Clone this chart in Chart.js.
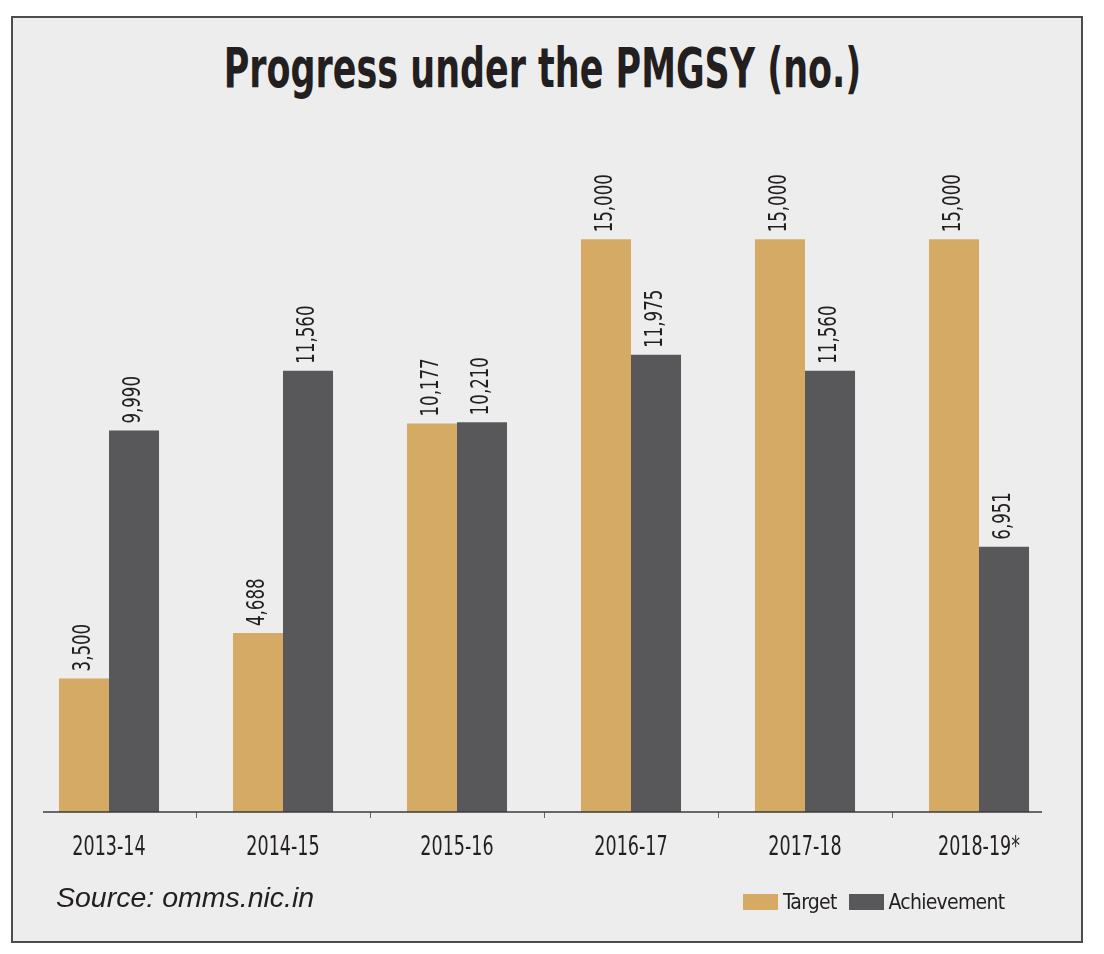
<!DOCTYPE html>
<html lang="en">
<head>
    <meta charset="UTF-8">
    <title>Progress under the PMGSY</title>
    <script src="https://cdn.jsdelivr.net/npm/chart.js"></script>
    <style>
        body {
            margin: 0;
            padding: 0;
            background: #ffffff;
        }
        .page {
            position: relative;
            width: 1104px;
            height: 954px;
            overflow: hidden;
        }
        .frame {
            position: absolute;
            left: 11px;
            top: 16px;
            width: 1068px;
            height: 923px;
            border: 2px solid #4d4d4d;
            background: #ededed;
        }
        #pmgsyChart {
            position: absolute;
            left: 0;
            top: 0;
        }
        .chart-title {
            position: absolute;
            left: 7px;
            width: 1071px;
            top: 41px;
            margin: 0;
            text-align: center;
            font-family: "DejaVu Sans Condensed", "Liberation Sans", sans-serif;
            font-weight: bold;
            font-size: 55px;
            line-height: 55px;
            color: #231f20;
            transform: scaleX(0.706);
            transform-origin: center;
        }
        .source {
            position: absolute;
            left: 56px;
            top: 883px;
            font-family: "Liberation Sans", Arial, sans-serif;
            font-style: italic;
            font-size: 28.5px;
            line-height: 28px;
            color: #231f20;
        }
        .legend-container {
            position: absolute;
            left: 743px;
            top: 890px;
            display: flex;
            align-items: center;
            gap: 12px;
        }
        .legend-item {
            display: flex;
            align-items: center;
            white-space: nowrap;
        }
        .legend-item span {
            margin-left: 5px;
            font-family: "DejaVu Sans Condensed", "Liberation Sans", sans-serif;
            font-size: 21px;
            letter-spacing: -0.75px;
            color: #231f20;
        }
        .legend-color {
            display: inline-block;
            width: 35px;
            height: 16px;
        }
    </style>
</head>
<body>
<div class="page">
    <div class="frame"></div>
    <h1 class="chart-title">Progress under the PMGSY (no.)</h1>
    <canvas id="pmgsyChart" width="1104" height="954"></canvas>
    <div class="source">Source: omms.nic.in</div>
    <div id="legend" class="legend-container"></div>
</div>

<script>
    const years = ['2013-14', '2014-15', '2015-16', '2016-17', '2017-18', '2018-19*'];
    const target = [3500, 4688, 10177, 15000, 15000, 15000];
    const achievement = [9990, 11560, 10210, 11975, 11560, 6951];

    const seriesNames = ['Target', 'Achievement'];
    const seriesColors = ['#d4aa65', '#58585a'];

    const narrowFont = '"DejaVu Sans Condensed", "Liberation Sans", sans-serif';
    const squeeze = 0.77; // no narrow font installed, so text is squeezed with fillText maxWidth

    // rotated value labels above each bar
    const barLabels = {
        id: 'barLabels',
        afterDatasetsDraw(chart) {
            const ctx = chart.ctx;
            ctx.save();
            ctx.font = '24px ' + narrowFont;
            ctx.fillStyle = '#231f20';
            ctx.textAlign = 'left';
            ctx.textBaseline = 'middle';
            chart.data.datasets.forEach((ds, i) => {
                chart.getDatasetMeta(i).data.forEach((bar, j) => {
                    const text = ds.data[j].toLocaleString('en-US');
                    ctx.save();
                    ctx.translate(bar.x, bar.y - 7);
                    ctx.rotate(-Math.PI / 2);
                    ctx.fillText(text, 0, 0, ctx.measureText(text).width * squeeze);
                    ctx.restore();
                });
            });
            ctx.restore();
        }
    };

    // squeeze the x tick labels the same way
    const squeezeTicks = {
        id: 'squeezeTicks',
        beforeDraw(chart) {
            const scale = chart.scales.x;
            const ctx = chart.ctx;
            scale.getLabelItems(chart.chartArea).forEach(item => {
                ctx.save();
                ctx.font = item.font.string;
                item.options.maxWidth = ctx.measureText(item.label).width * 0.75;
                ctx.restore();
            });
        }
    };

    // baseline, a bit shorter than the category band
    const baseLine = {
        id: 'baseLine',
        afterDatasetsDraw(chart) {
            const { ctx, chartArea } = chart;
            ctx.save();
            ctx.strokeStyle = '#3a3a3a';
            ctx.lineWidth = 1.5;
            ctx.beginPath();
            ctx.moveTo(chartArea.left + 21, chartArea.bottom);
            ctx.lineTo(chartArea.right - 24, chartArea.bottom);
            ctx.stroke();
            ctx.restore();
        }
    };

    const ctx = document.getElementById('pmgsyChart').getContext('2d');
    new Chart(ctx, {
        type: 'bar',
        data: {
            labels: years,
            datasets: [
                { label: seriesNames[0], data: target, backgroundColor: seriesColors[0] },
                { label: seriesNames[1], data: achievement, backgroundColor: seriesColors[1] }
            ]
        },
        options: {
            responsive: false,
            animation: false,
            devicePixelRatio: 1,
            categoryPercentage: 0.575,
            barPercentage: 1,
            layout: {
                padding: { top: 163, left: 22, right: 38, bottom: 0 }
            },
            plugins: {
                legend: { display: false },
                tooltip: { enabled: false }
            },
            scales: {
                x: {
                    offset: true,
                    afterFit: function(scale) {
                        scale.height = 142;
                    },
                    border: { display: false },
                    grid: {
                        offset: true,
                        drawOnChartArea: false,
                        tickLength: 6,
                        lineWidth: 1,
                        color: c => (c.type !== 'tick' || c.index === 0) ? 'rgba(0,0,0,0)' : '#666666'
                    },
                    ticks: {
                        color: '#231f20',
                        padding: 15,
                        maxRotation: 0,
                        font: { family: narrowFont, size: 26 }
                    }
                },
                y: {
                    display: false,
                    min: 0,
                    max: 17000
                }
            }
        },
        plugins: [squeezeTicks, barLabels, baseLine]
    });

    const legendContainer = document.getElementById('legend');
    seriesNames.forEach((name, i) => {
        const item = document.createElement('div');
        item.className = 'legend-item';
        item.innerHTML =
            `<div class="legend-color" style="background-color: ${seriesColors[i]}"></div>
            <span>${name}</span>`;
        legendContainer.appendChild(item);
    });
</script>
</body>
</html>
